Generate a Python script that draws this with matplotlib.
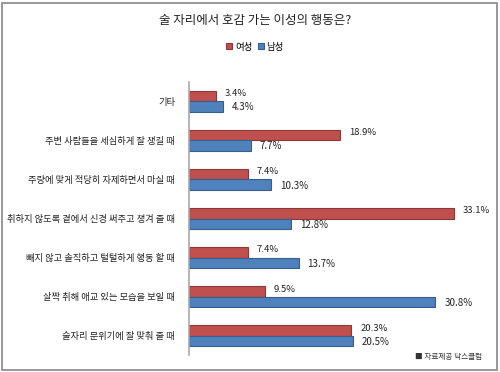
import numpy as np
import matplotlib.pyplot as plt
from matplotlib.patches import Rectangle

plt.rcParams['font.family'] = ['Noto Sans CJK KR', 'DejaVu Sans']

# Data
categories = [
    "기타",
    "주변 사람들을 세심하게 잘 챙길 때",
    "주량에 맞게 적당히 자제하면서 마실 때",
    "취하지 않도록 곁에서 신경 써주고 챙겨 줄 때",
    "빼지 않고 솔직하고 털털하게 행동 할 때",
    "살짝 취해 애교 있는 모습을 보일 때",
    "술자리 분위기에 잘 맞춰 줄 때",
]
female = [3.4, 18.9, 7.4, 33.1, 7.4, 9.5, 20.3]
male = [4.3, 7.7, 10.3, 12.8, 13.7, 30.8, 20.5]

red = "#C0504D"
blue = "#4F81BD"

fig = plt.figure(figsize=(5, 3.72), dpi=100)
ax = fig.add_axes([0.378, 0.045, 0.56, 0.735])

y = np.arange(len(categories))
h = 0.27
ax.barh(y - h / 2, female, height=h, color=red, edgecolor="#8C3836", linewidth=0.8, label="여성")
ax.barh(y + h / 2, male, height=h, color=blue, edgecolor="#385D8A", linewidth=0.8, label="남성")

for yi, f, m in zip(y, female, male):
    ax.text(f + 1.1, yi - h / 2 - 0.06, f"{f}%", fontsize=6.8, va="center", color="#222222")
    ax.text(m + 1.1, yi + h / 2 + 0.02, f"{m}%", fontsize=7, va="center", color="#222222")

ax.set_yticks(y)
ax.set_yticklabels(categories, fontsize=6.7, color="#222222")
ax.tick_params(axis="y", length=0, pad=10)
ax.set_xticks([])
ax.set_xlim(0, 35)
ax.set_ylim(len(categories) - 0.5, -0.5)
for s in ["top", "right", "bottom"]:
    ax.spines[s].set_visible(False)
ax.spines["left"].set_color("#AAAAAA")
ax.spines["left"].set_linewidth(1.2)

fig.text(0.51, 0.945, "술 자리에서 호감 가는 이성의 행동은?", ha="center", va="center", fontsize=9, color="#222222")
fig.legend(loc="center", bbox_to_anchor=(0.51, 0.873), ncol=2, fontsize=6.8, frameon=False,
           handlelength=0.6, handleheight=0.6, handletextpad=0.3, columnspacing=0.6)
fig.text(0.965, 0.04, "■ 자료제공 닥스클럽", ha="right", va="center", fontsize=5.5, color="#333333")

fig.patches.append(Rectangle((0.004, 0.005), 0.99, 0.988, transform=fig.transFigure,
                             fill=False, edgecolor="#888888", linewidth=1.2))

fig.savefig("out.png", dpi=100)
